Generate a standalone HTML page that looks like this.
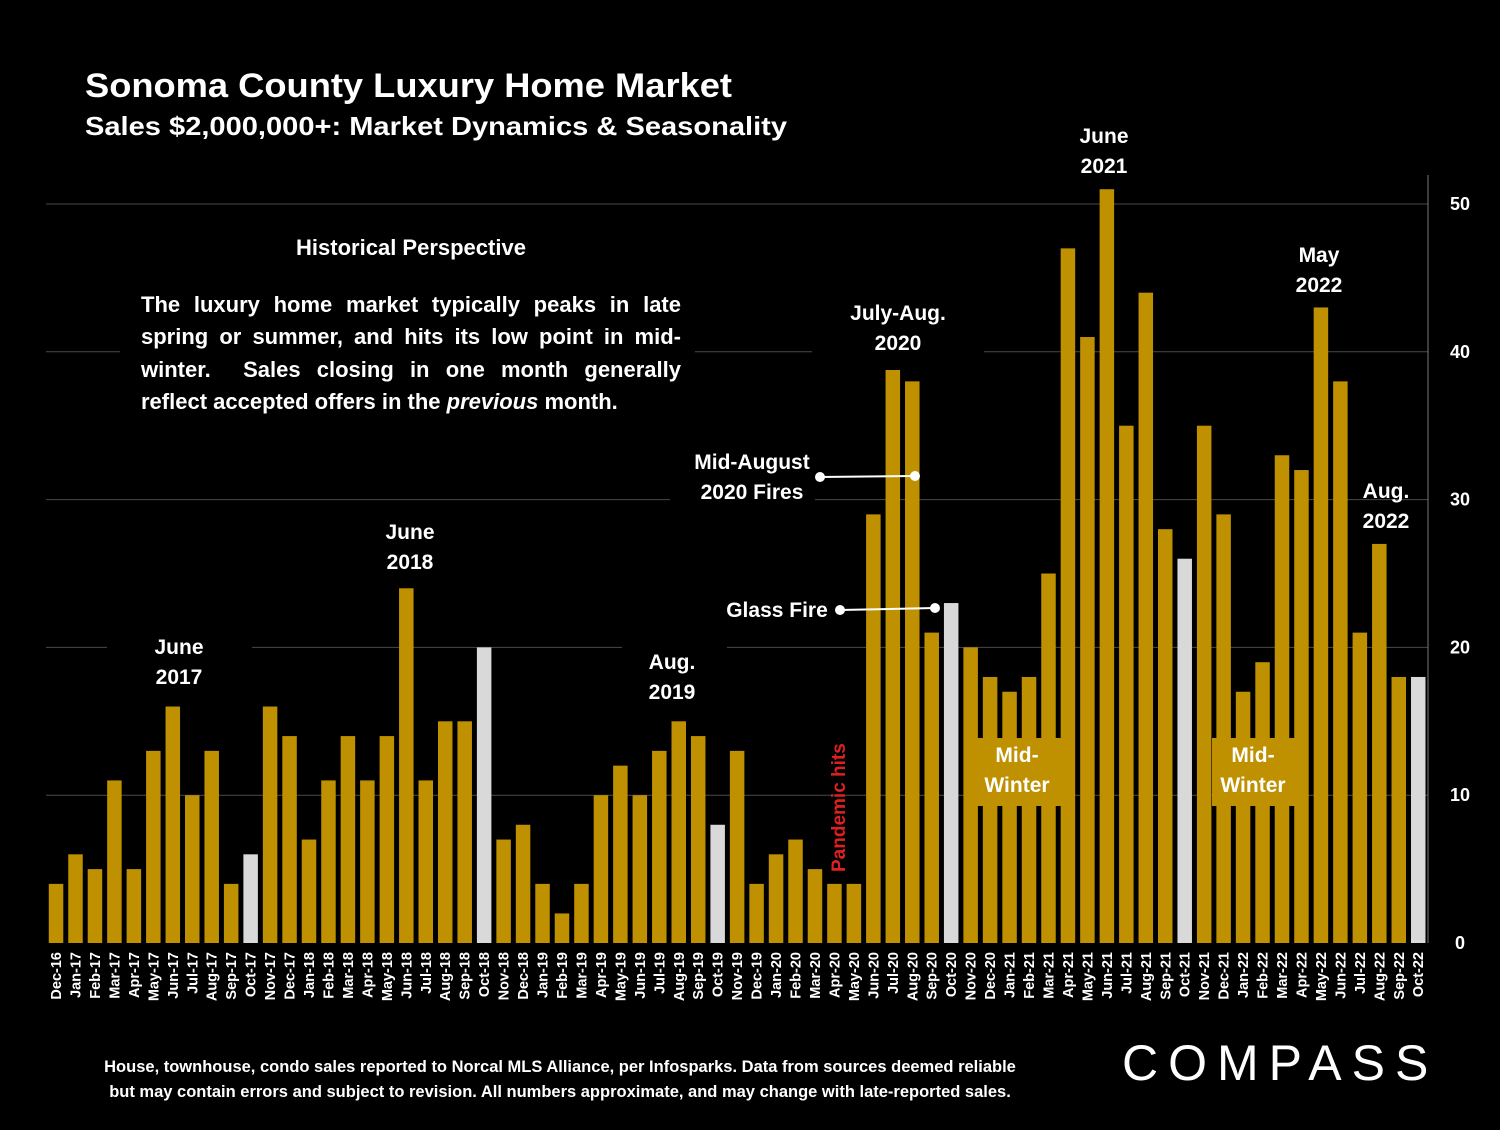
<!DOCTYPE html>
<html><head><meta charset="utf-8"><style>
body{margin:0;background:#000;width:1500px;height:1125px;overflow:hidden;font-family:"Liberation Sans",sans-serif;color:#fff}
svg text{font-family:"Liberation Sans",sans-serif;font-weight:bold}
</style></head><body>
<svg id="c" width="1500" height="1125">
<text x="85" y="97" font-size="34" fill="#fff" textLength="647" lengthAdjust="spacingAndGlyphs">Sonoma County Luxury Home Market</text>
<text x="85" y="135" font-size="26" fill="#fff" textLength="702" lengthAdjust="spacingAndGlyphs">Sales $2,000,000+: Market Dynamics &amp; Seasonality</text>
<g id="grid"></g><g id="bars"></g><g id="xl"></g><g id="yl"></g><g id="ann"></g>
</svg>
<script>
const categories=["Dec-16","Jan-17","Feb-17","Mar-17","Apr-17","May-17","Jun-17","Jul-17","Aug-17","Sep-17","Oct-17","Nov-17","Dec-17","Jan-18","Feb-18","Mar-18","Apr-18","May-18","Jun-18","Jul-18","Aug-18","Sep-18","Oct-18","Nov-18","Dec-18","Jan-19","Feb-19","Mar-19","Apr-19","May-19","Jun-19","Jul-19","Aug-19","Sep-19","Oct-19","Nov-19","Dec-19","Jan-20","Feb-20","Mar-20","Apr-20","May-20","Jun-20","Jul-20","Aug-20","Sep-20","Oct-20","Nov-20","Dec-20","Jan-21","Feb-21","Mar-21","Apr-21","May-21","Jun-21","Jul-21","Aug-21","Sep-21","Oct-21","Nov-21","Dec-21","Jan-22","Feb-22","Mar-22","Apr-22","May-22","Jun-22","Jul-22","Aug-22","Sep-22","Oct-22"];
const sales=[4,6,5,11,5,13,16,10,13,4,6,16,14,7,11,14,11,14,24,11,15,15,20,7,8,4,2,4,10,12,10,13,15,14,8,13,4,6,7,5,4,4,29,39,38,21,23,20,18,17,18,25,47,41,51,35,44,28,26,35,29,17,19,33,32,43,38,21,27,18,18];
const highlightMonths=["Oct-17","Oct-18","Oct-19","Oct-20","Oct-21","Oct-22"];
const yTicks=[0,10,20,30,40,50];
const NS="http://www.w3.org/2000/svg";
const x0=46.3,slot=19.46,yBase=943,yPer=14.78;
const xC=i=>x0+slot*(i+0.5);
const yS=v=>yBase-v*yPer;
function mk(t,a,p){const e=document.createElementNS(NS,t);for(const k in a)e.setAttribute(k,a[k]);p.appendChild(e);return e;}
const grid=document.getElementById('grid'),bars=document.getElementById('bars'),xl=document.getElementById('xl'),yl=document.getElementById('yl'),ann=document.getElementById('ann');
yTicks.forEach(t=>{
 if(t>0){const l=mk('line',{x1:46,x2:1428,y1:yS(t),y2:yS(t),stroke:'#4a4a4a','stroke-width':1},grid);
 
 }
 const tx=mk('text',{x:1460,y:yS(t)+6,'font-size':18,'text-anchor':'middle',fill:'#fff'},yl);tx.textContent=t;
 
 
});
const ax=mk('line',{x1:1428,x2:1428,y1:175,y2:943,stroke:'#777','stroke-width':1},grid);


categories.forEach((c,i)=>{
 const v=sales[i],w=14.5;
 const r=mk('rect',{x:xC(i)-w/2,y:yS(v),width:w,height:v*yPer,fill:highlightMonths.includes(c)?'#d9d9d9':'#bf9000'},bars);
 
 
 const t=mk('text',{transform:`translate(${xC(i)+5},952) rotate(-90)`,'font-size':14.5,'text-anchor':'end',fill:'#fff'},xl);
 t.textContent=c;
 
 
});
function label(lines,x,y,name,opts={}){
 const g=mk('g',{},ann);
 
 
 if(opts.box)mk('rect',opts.box,g);
 lines.forEach((s,k)=>{const t=mk('text',{x:x,y:y+k*(opts.lh||30),'font-size':opts.fs||21,'text-anchor':opts.anchor||'middle',fill:opts.fill||'#fff'},g);t.textContent=s;});
 return g;
}
label(["June","2017"],179,654,'label-june-2017',{box:{x:107,y:628,width:145,height:68,fill:'#000'}});
label(["June","2018"],410,539,'label-june-2018');
label(["Aug.","2019"],672,669,'label-aug-2019',{box:{x:622,y:640,width:105,height:68,fill:'#000'}});
label(["July-Aug.","2020"],898,320,'label-jul-aug-2020',{box:{x:812,y:290,width:172,height:80,fill:'#000'}});
label(["June","2021"],1104,143,'label-june-2021');
label(["May","2022"],1319,262,'label-may-2022');
label(["Aug.","2022"],1386,498,'label-aug-2022');
label(["Mid-August","2020 Fires"],752,469,'label-fires',{box:{x:670,y:440,width:145,height:70,fill:'#000'}});
label(["Glass Fire"],777,617,'label-glass-fire');
label(["Mid-","Winter"],1017,762,'label-mid-winter-1',{box:{x:977,y:738,width:87,height:68,fill:'#bf9000'}});
label(["Mid-","Winter"],1253,762,'label-mid-winter-2',{box:{x:1212,y:738,width:84,height:68,fill:'#bf9000'}});
[[820,477,915,476],[840,610,935,608]].forEach((p,k)=>{
 mk('line',{x1:p[0],y1:p[1],x2:p[2],y2:p[3],stroke:'#fff','stroke-width':2},ann);
 mk('circle',{cx:p[0],cy:p[1],r:5,fill:'#fff'},ann);mk('circle',{cx:p[2],cy:p[3],r:5,fill:'#fff'},ann);
});
const ph=mk('text',{transform:'translate(845,872) rotate(-90)','font-size':19,fill:'#e02020'},ann);ph.textContent='Pandemic hits';


const hb=mk('rect',{x:120,y:222,width:575,height:200,fill:'#000'},ann);


</script>
<div style="position:absolute;left:141px;top:232px;width:540px;font-size:22px;font-weight:bold;line-height:32.5px;text-align:justify">
<div style="text-align:center;margin-bottom:24px;font-size:22px">Historical Perspective</div>
The luxury home market typically peaks in late spring or summer, and hits its low point in mid-winter.&nbsp; Sales closing in one month generally reflect accepted offers in the <i>previous</i> month.</div>
<div style="position:absolute;left:40px;top:1055px;width:1040px;text-align:center;font-size:16.5px;font-weight:bold;line-height:25px;white-space:nowrap">House, townhouse, condo sales reported to Norcal MLS Alliance, per Infosparks. Data from sources deemed reliable<br>but may contain errors and subject to revision. All numbers approximate, and may change with late-reported sales.</div>
<div style="position:absolute;left:1122px;top:1034px;font-size:50px;letter-spacing:10px;font-weight:normal">COMPASS</div>
</body></html>
